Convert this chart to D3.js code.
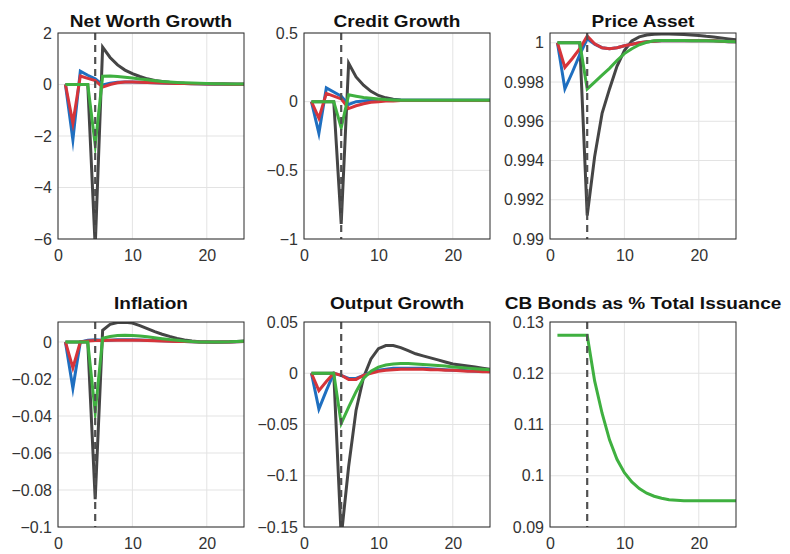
<!DOCTYPE html>
<html><head><meta charset="utf-8">
<script src="https://cdn.jsdelivr.net/npm/d3@7"></script>
<style>
html,body{margin:0;padding:0;background:#fff;}
svg{display:block;}
text{font-family:"Liberation Sans",Arial,Helvetica,sans-serif;}
</style>
</head><body>
<svg id="chart" width="790" height="554"></svg>
<script>
// ---------- DATA ----------
const periods = [1,2,3,4,5,6,7,8,9,10,11,12,13,14,15,16,17,18,19,20,21,22,23,24,25];
const shockPeriod = 5;
const xTicks = [0, 10, 20];

const titles = ["Net Worth Growth","Credit Growth","Price Asset","Inflation","Output Growth","CB Bonds as % Total Issuance"];

// Net Worth Growth
const netWorthGray  = [0,0,0,0,-6.3,1.45,1.05,0.76,0.56,0.42,0.31,0.22,0.16,0.12,0.09,0.07,0.05,0.04,0.03,0.03,0.02,0.02,0.02,0.01,0.01];
const netWorthBlue  = [0,-2.15,0.52,0.36,0.22,-0.02,0.05,0.09,0.1,0.1,0.09,0.08,0.07,0.06,0.05,0.04,0.04,0.03,0.03,0.02,0.02,0.02,0.01,0.01,0.01];
const netWorthRed   = [0,-1.5,0.33,0.24,0.15,-0.1,0.0,0.07,0.1,0.1,0.09,0.08,0.07,0.06,0.05,0.04,0.04,0.03,0.03,0.02,0.02,0.02,0.01,0.01,0.01];
const netWorthGreen = [0,0,0,0,-2.35,0.32,0.33,0.31,0.28,0.25,0.21,0.18,0.15,0.12,0.1,0.08,0.07,0.06,0.05,0.04,0.03,0.03,0.02,0.02,0.02];
const netWorthTicks = [2,0,-2,-4,-6];

// Credit Growth
const creditGray  = [0,0,0,0,-0.89,0.28,0.18,0.12,0.075,0.045,0.028,0.018,0.013,0.01,0.01,0.01,0.01,0.01,0.01,0.01,0.01,0.01,0.01,0.01,0.01];
const creditBlue  = [0,-0.23,0.1,0.07,0.04,-0.02,0,0.005,0.01,0.01,0.01,0.01,0.01,0.01,0.01,0.01,0.01,0.01,0.01,0.01,0.01,0.01,0.01,0.01,0.01];
const creditRed   = [0,-0.12,0.06,0.04,0.02,-0.05,-0.03,-0.015,-0.005,0,0.005,0.005,0.008,0.008,0.008,0.008,0.008,0.008,0.008,0.008,0.008,0.008,0.008,0.008,0.008];
const creditGreen = [0,0,0,0,-0.19,0.05,0.04,0.03,0.025,0.02,0.015,0.012,0.01,0.01,0.01,0.01,0.01,0.01,0.01,0.01,0.01,0.01,0.01,0.01,0.01];
const creditTicks = [0.5,0,-0.5,-1];

// Price Asset
const priceGray  = [1,1,1,1,0.9912,0.9942,0.9964,0.99765,0.9988,0.9996,1.0001,1.0003,1.0004,1.00044,1.00045,1.00045,1.00044,1.00042,1.0004,1.00037,1.00033,1.0003,1.00025,1.0002,1.00015];
const priceBlue  = [1,0.99765,0.9985,0.9994,1.0002,0.99993,0.99975,0.9997,0.99975,0.99985,0.99993,1.0,1.00005,1.00008,1.0001,1.0001,1.0001,1.0001,1.0001,1.0001,1.0001,1.0001,1.00008,1.00006,1.00005];
const priceRed   = [1,0.99875,0.9992,0.9997,1.00035,0.99995,0.99975,0.9997,0.99975,0.99985,0.99993,1.0,1.00005,1.00008,1.0001,1.0001,1.0001,1.0001,1.0001,1.0001,1.0001,1.0001,1.00008,1.00006,1.00005];
const priceGreen = [1,1,1,1,0.99765,0.998,0.99835,0.9987,0.9991,0.99945,0.9997,0.9999,1.00003,1.0001,1.00012,1.00012,1.00012,1.00012,1.00011,1.0001,1.0001,1.00009,1.00008,1.00007,1.00006];
const priceTicks = [1,0.998,0.996,0.994,0.992,0.99];

// Inflation
const inflationGray  = [0,0,0,0,-0.085,0.0063,0.0095,0.0105,0.0107,0.0102,0.0088,0.0072,0.0056,0.0042,0.003,0.0019,0.0011,0.0005,0.0001,0,-0.0001,0,0.0001,0.0003,0.0005];
const inflationBlue  = [0,-0.025,0,0.001,0.0012,0.001,0.001,0.0012,0.0012,0.0012,0.0011,0.001,0.0008,0.0006,0.0005,0.0003,0.0002,0.0001,0,0,0,0,0,0.0001,0.0002];
const inflationRed   = [0,-0.014,0,0.0005,0.0008,0.0008,0.0009,0.001,0.001,0.001,0.0009,0.0008,0.0007,0.0005,0.0004,0.0003,0.0002,0.0001,0,0,0,0,0,0.0001,0.0002];
const inflationGreen = [0,0,0,0,-0.038,0.002,0.003,0.0035,0.0036,0.0035,0.0032,0.0028,0.0023,0.0018,0.0013,0.0009,0.0005,0.0002,0,0,0,0,0.0001,0.0003,0.0004];
const inflationTicks = [0,-0.02,-0.04,-0.06,-0.08,-0.1];

// Output Growth
const outputGray  = [0,0,0,0,-0.16,-0.091,-0.036,-0.004,0.014,0.024,0.027,0.027,0.025,0.022,0.019,0.017,0.015,0.013,0.011,0.009,0.008,0.007,0.006,0.005,0.004];
const outputBlue  = [0,-0.035,-0.017,0,-0.002,-0.005,-0.005,-0.002,0.001,0.003,0.004,0.005,0.005,0.005,0.005,0.005,0.0045,0.004,0.0035,0.003,0.003,0.0025,0.002,0.002,0.0015];
const outputRed   = [0,-0.017,-0.008,0,-0.002,-0.006,-0.006,-0.002,0,0.002,0.003,0.0035,0.004,0.004,0.004,0.004,0.0035,0.0035,0.003,0.003,0.0025,0.002,0.002,0.0015,0.0015];
const outputGreen = [0,0,0,0,-0.049,-0.033,-0.018,-0.005,0.002,0.006,0.008,0.009,0.0095,0.0095,0.009,0.0085,0.008,0.0075,0.007,0.006,0.0055,0.005,0.0045,0.004,0.0035];
const outputTicks = [0.05,0,-0.05,-0.1,-0.15];

// CB Bonds as % Total Issuance
const cbBondsGreen = [0.1274,0.1274,0.1274,0.1274,0.1274,0.1185,0.1122,0.107,0.1032,0.1006,0.0988,0.0975,0.0966,0.096,0.0956,0.0953,0.0952,0.0951,0.0951,0.0951,0.0951,0.0951,0.0951,0.0951,0.0951];
const cbBondsTicks = [0.13,0.12,0.11,0.1,0.09];

const seriesColors = {gray:"#454545", blue:"#1f6fc0", red:"#d6343a", green:"#3fb040"};

// ---------- LAYOUT ----------
const colLeft = [58, 304, 550];
const rowTop = [33, 322];
const rowBottom = [239, 527];
const plotW = 186;
const titleGap = [6, 13];

const tickFmt = d => String(d).replace("-", "\u2212");

const panels = [
  {title:titles[0], dom:[-6,2], ticks:netWorthTicks, series:[["gray",netWorthGray],["blue",netWorthBlue],["red",netWorthRed],["green",netWorthGreen]]},
  {title:titles[1], dom:[-1,0.5], ticks:creditTicks, series:[["gray",creditGray],["blue",creditBlue],["red",creditRed],["green",creditGreen]]},
  {title:titles[2], dom:[0.99,1.0005], ticks:priceTicks, series:[["gray",priceGray],["blue",priceBlue],["red",priceRed],["green",priceGreen]]},
  {title:titles[3], dom:[-0.1,0.0108], ticks:inflationTicks, series:[["gray",inflationGray],["blue",inflationBlue],["red",inflationRed],["green",inflationGreen]]},
  {title:titles[4], dom:[-0.15,0.05], ticks:outputTicks, series:[["gray",outputGray],["blue",outputBlue],["red",outputRed],["green",outputGreen]]},
  {title:titles[5], dom:[0.09,0.13], ticks:cbBondsTicks, series:[["green",cbBondsGreen]]}
];

const svg = d3.select("#chart");
const defs = svg.append("defs");

panels.forEach((p, i) => {
  const col = i % 3, row = Math.floor(i / 3);
  const x0 = colLeft[col], y0 = rowTop[row], y1 = rowBottom[row];
  const x = d3.scaleLinear().domain([0,25]).range([x0, x0 + plotW]);
  const y = d3.scaleLinear().domain(p.dom).range([y1, y0]);
  const g = svg.append("g");

  const clipId = "clip" + i;
  defs.append("clipPath").attr("id", clipId).append("rect")
    .attr("x", x0).attr("y", y0).attr("width", plotW).attr("height", y1 - y0);

  // grid
  const grid = g.append("g").attr("stroke", "#e3e3e3").attr("stroke-width", 1);
  xTicks.forEach(t => grid.append("line").attr("x1", x(t)).attr("x2", x(t)).attr("y1", y0).attr("y2", y1));
  p.ticks.forEach(t => grid.append("line").attr("x1", x0).attr("x2", x0 + plotW).attr("y1", y(t)).attr("y2", y(t)));

  // axes (D3 axes for labels)
  const yAxis = d3.axisLeft(y).tickValues(p.ticks).tickFormat(tickFmt).tickSize(0).tickPadding(6);
  const ya = g.append("g").attr("transform", `translate(${x0},0)`).call(yAxis);
  const xAxis = d3.axisBottom(x).tickValues(xTicks).tickFormat(d3.format("d")).tickSize(0).tickPadding(11);
  const xa = g.append("g").attr("transform", `translate(0,${y1})`).call(xAxis);
  [ya, xa].forEach(a => {
    a.select(".domain").remove();
    a.selectAll("text").attr("font-size", 16).attr("fill", "#333")
      .attr("font-family", "'Liberation Sans', Arial, sans-serif");
  });

  // series
  const line = d3.line().x((d, k) => x(periods[k])).y(d => y(d));
  const lg = g.append("g").attr("clip-path", `url(#${clipId})`);
  p.series.forEach(([c, vals]) => {
    lg.append("path").datum(vals).attr("d", line).attr("fill", "none")
      .attr("stroke", seriesColors[c]).attr("stroke-width", 3)
      .attr("stroke-linejoin", "miter").attr("stroke-miterlimit", 10);
  });

  // shock dashed line
  g.append("line").attr("x1", x(shockPeriod)).attr("x2", x(shockPeriod))
    .attr("y1", y0).attr("y2", y1)
    .attr("stroke", "#505050").attr("stroke-width", 2.2).attr("stroke-dasharray", "7,5");

  // box
  g.append("rect").attr("x", x0).attr("y", y0).attr("width", plotW).attr("height", y1 - y0)
    .attr("fill", "none").attr("stroke", "#2b2b2b").attr("stroke-width", 1);

  // title
  const cx = x0 + plotW / 2;
  g.append("text").attr("transform", `translate(${cx},${y0 - titleGap[row]}) scale(1.12,1)`)
    .attr("text-anchor", "middle").attr("font-weight", "bold").attr("font-size", 17)
    .attr("fill", "#111").text(p.title);
});
</script>
</body></html>
